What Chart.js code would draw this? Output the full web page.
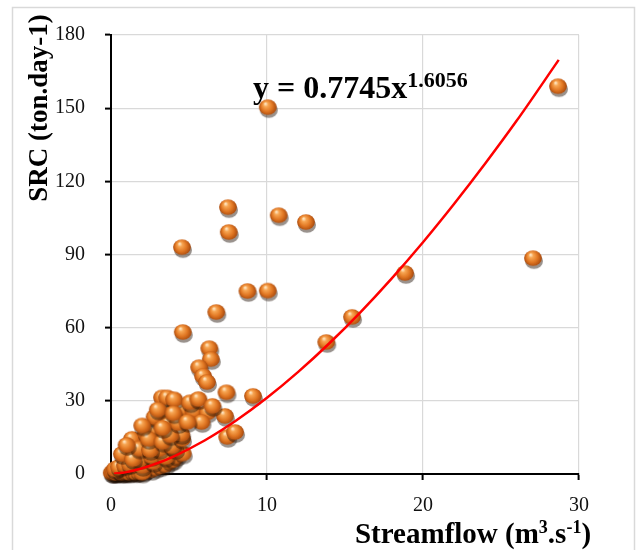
<!DOCTYPE html>
<html>
<head>
<meta charset="utf-8">
<script src="https://cdn.jsdelivr.net/npm/chart.js@4.4.1/dist/chart.umd.min.js"></script>
<style>
  body { margin: 0; background: #fff; }
  #wrap { position: relative; width: 637px; height: 550px; }
</style>
</head>
<body>
<div id="wrap"><canvas id="srcChart" width="637" height="550"></canvas></div>
<script>
const flowX = [
  0.05, 0.15, 0.3, 0.45, 0.6, 0.8, 0.95, 1.1, 1.3, 1.5, 1.7, 1.9, 2.1, 2.3, 2.6, 2.9, 3.2, 3.5,
  0.1, 0.2, 0.35, 0.55, 0.7, 0.85, 1.0, 1.2, 1.4, 1.6, 1.8, 2.0,
  0.25, 0.5, 0.9, 1.2, 2.0, 2.7, 3.8, 4.0, 4.2, 4.6,
  0.7, 1.5, 1.86, 1.4, 2.6, 3.5, 3.1, 4.1, 3.9, 2.15, 1.35, 3.1, 4.55, 2.25, 2.7, 4.2, 4.5,
  3.6, 2.8, 2.95, 3.35, 4.55, 2.8, 3.65, 4.55, 5.3, 6.2, 7.3, 5.8, 3.27, 3.6, 4.05, 5.06, 5.6,
  6.5, 7.4, 9.1, 7.45, 7.95, 3.65, 1.8, 2.5, 2.4, 3.3, 3.8, 4.3, 3.0, 4.0, 2.0, 1.0, 3.3, 4.9,
  4.6, 6.3, 6.4, 5.65, 5.9, 6.15, 6.75, 8.75, 10.05, 4.55, 7.5, 7.55, 10.05, 10.75, 12.5,
  13.8, 15.45, 18.85, 27.05, 28.65
];
const srcY = [
  0.1, 0.3, 0.2, 0.5, 0.3, 0.6, 0.2, 0.8, 0.4, 1.0, 0.5, 1.2, 0.8, 1.6, 1.3, 2.2, 2.8, 3.5,
  0.05, 0.4, 0.1, 0.8, 0.1, 0.3, 0.5, 0.2, 0.7, 0.3, 0.6, 0.2,
  1.6, 2.5, 3.2, 3.7, 2.9, 4.5, 4.8, 5.5, 7.0, 8.0,
  7.8, 8.6, 5.7, 5.7, 7.0, 6.6, 9.8, 9.8, 11.0, 12.3, 14.0, 14.8, 14.0, 16.4, 17.2, 17.2, 16.0,
  19.3, 18.0, 22.0, 23.4, 23.2, 23.0, 27.0, 26.2, 25.4, 24.9, 23.4, 20.9, 31.0, 31.0, 30.2, 29.0, 30.3,
  27.5, 33.1, 31.6, 14.8, 16.8, 20.0, 10.0, 9.5, 14.0, 12.8, 15.5, 20.5, 26.0, 24.5, 19.5, 11.5, 18.5, 21.0,
  57.8, 51.2, 46.7, 43.4, 39.8, 37.3, 66.0, 74.6, 74.8, 92.6, 109.0, 98.8, 150.0, 105.7, 102.9,
  53.7, 64.0, 82.0, 88.1, 158.6
];

// power trendline y = 0.7745x^1.6056
const trendX = [0.2, 1, 2, 3, 4, 6, 8, 10, 12, 14, 16, 18, 20, 22, 24, 26, 28.7];
const trendY = [0.06, 0.77, 2.36, 4.52, 7.17, 13.75, 21.83, 31.23, 41.86, 53.61, 66.42, 80.24, 95.04, 110.8, 127.4, 144.8, 169.8];

const xTicks = [0, 10, 20, 30];
const yTicks = [0, 30, 60, 90, 120, 150, 180];

const serif = '"Liberation Serif", "Times New Roman", serif';

// shaded orange ball used as point marker
function makeBall() {
    const c = document.createElement('canvas');
    c.width = 26; c.height = 26;
    const g = c.getContext('2d');
    const cx = 13, cy = 12;
    g.fillStyle = 'rgba(30, 15, 5, 0.45)';
    g.beginPath();
    g.ellipse(cx + 1, cy + 3, 9, 7.8, 0, 0, Math.PI * 2);
    g.fill();
    const grad = g.createRadialGradient(cx - 2.5, cy - 3.5, 0.5, cx, cy, 9.2);
    grad.addColorStop(0, '#ffe6c2');
    grad.addColorStop(0.22, '#f7a552');
    grad.addColorStop(0.6, '#e07622');
    grad.addColorStop(1, '#a2450c');
    g.fillStyle = grad;
    g.beginPath();
    g.ellipse(cx, cy, 8.9, 7.8, 0, 0, Math.PI * 2);
    g.fill();
    return c;
}

const labelsPlugin = {
    id: 'labels',
    afterDraw(chart) {
        const ctx = chart.ctx;
        ctx.save();
        // outer frame
        ctx.strokeStyle = '#d9d9d9';
        ctx.lineWidth = 1.5;
        ctx.strokeRect(12.5, 7.5, 622, 570);

        ctx.fillStyle = '#000';
        ctx.textBaseline = 'alphabetic';

        // y title
        ctx.save();
        ctx.translate(47, 108);
        ctx.rotate(-Math.PI / 2);
        ctx.font = 'bold 27px ' + serif;
        ctx.textAlign = 'center';
        ctx.fillText('SRC (ton.day-1)', 0, 0);
        ctx.restore();

        // x title with superscripts
        const big = 'bold 29px ' + serif, small = 'bold 18px ' + serif;
        const parts = [['Streamflow (m', big, 0], ['3', small, -10], ['.s', big, 0], ['-1', small, -10], [')', big, 0]];
        let w = 0;
        parts.forEach(p => { ctx.font = p[1]; w += ctx.measureText(p[0]).width; });
        let x = 473 - w / 2;
        ctx.textAlign = 'left';
        parts.forEach(p => { ctx.font = p[1]; ctx.fillText(p[0], x, 543 + p[2]); x += ctx.measureText(p[0]).width; });

        // equation
        ctx.font = 'bold 32px ' + serif;
        const eq = 'y = 0.7745x';
        ctx.fillText(eq, 253, 98);
        const ew = ctx.measureText(eq).width;
        ctx.font = 'bold 22px ' + serif;
        ctx.fillText('1.6056', 253 + ew, 87);
        ctx.restore();
    }
};

const ctx = document.getElementById('srcChart').getContext('2d');
const chart = new Chart(ctx, {
    type: 'scatter',
    data: {
        datasets: [
            {
                label: 'Power trend',
                data: trendX.map((x, i) => ({ x: x, y: trendY[i] })),
                showLine: true,
                borderColor: '#ff0000',
                borderWidth: 2.5,
                pointRadius: 0,
                cubicInterpolationMode: 'monotone',
                fill: false
            },
            {
                label: 'SRC',
                data: flowX.map((x, i) => ({ x: x, y: srcY[i] })),
                pointStyle: makeBall(),
                clip: false
            }
        ]
    },
    options: {
        responsive: false,
        animation: false,
        layout: { padding: { left: 0, top: 35, right: 58, bottom: 0 } },
        plugins: {
            legend: { display: false },
            tooltip: { enabled: false }
        },
        scales: {
            x: {
                type: 'linear',
                min: 0, max: 30,
                afterFit(scale) { scale.height = 76; },
                afterBuildTicks(scale) { scale.ticks = xTicks.map(v => ({ value: v })); },
                grid: { color: '#d9d9d9', lineWidth: 1.2, tickColor: '#000', tickLength: 6, tickWidth: 2 },
                border: { color: '#000', width: 2 },
                ticks: { font: { family: serif, size: 20 }, color: '#111', padding: 14 }
            },
            y: {
                type: 'linear',
                min: 0, max: 180,
                afterFit(scale) { scale.width = 111; },
                afterBuildTicks(scale) { scale.ticks = yTicks.map(v => ({ value: v })); },
                grid: { color: '#d9d9d9', lineWidth: 1.2, tickColor: '#000', tickLength: 6, tickWidth: 2 },
                border: { color: '#000', width: 2 },
                ticks: { font: { family: serif, size: 20 }, color: '#111', padding: 20 }
            }
        }
    },
    plugins: [labelsPlugin]
});
</script>
</body>
</html>
